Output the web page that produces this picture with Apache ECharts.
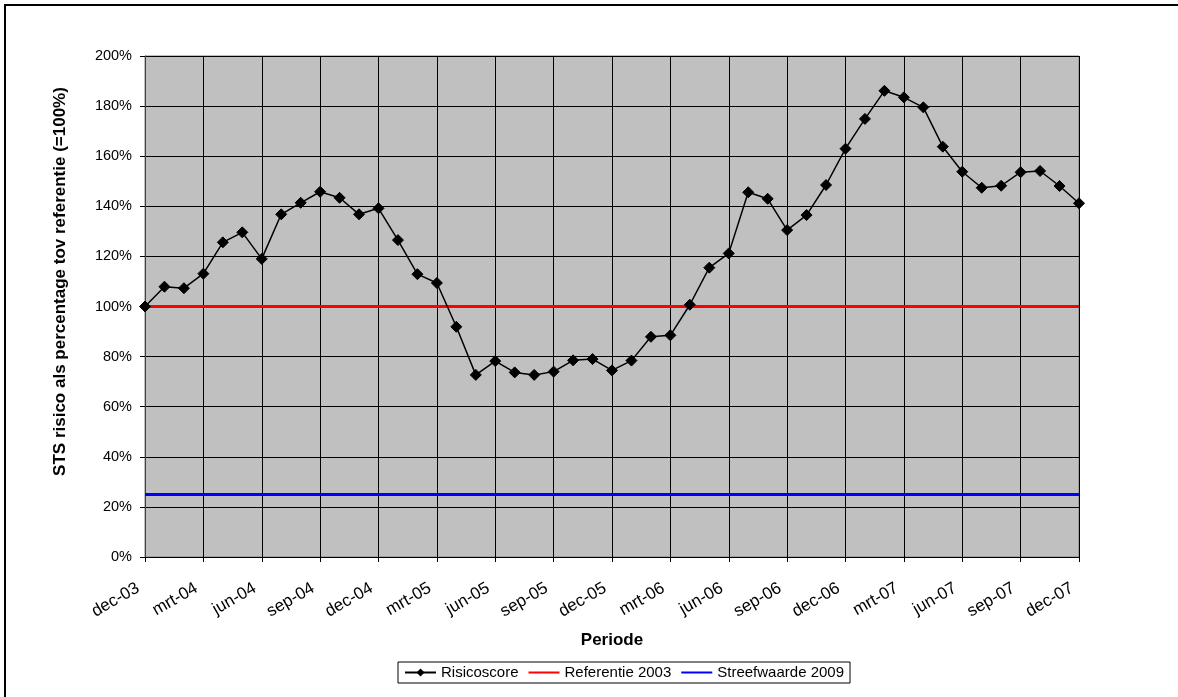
<!DOCTYPE html>
<html>
<head>
<meta charset="utf-8">
<script src="https://cdn.jsdelivr.net/npm/echarts@6/dist/echarts.min.js"></script>
<style>
  html, body { margin: 0; padding: 0; background: #fff; }
  #chart { width: 1178px; height: 697px; }
</style>
</head>
<body>
<div id="chart"></div>
<script>
// maanden dec-03 t/m dec-07
var periodes = [
  'dec-03','jan-04','feb-04','mrt-04','apr-04','mei-04','jun-04','jul-04','aug-04','sep-04','okt-04','nov-04',
  'dec-04','jan-05','feb-05','mrt-05','apr-05','mei-05','jun-05','jul-05','aug-05','sep-05','okt-05','nov-05',
  'dec-05','jan-06','feb-06','mrt-06','apr-06','mei-06','jun-06','jul-06','aug-06','sep-06','okt-06','nov-06',
  'dec-06','jan-07','feb-07','mrt-07','apr-07','mei-07','jun-07','jul-07','aug-07','sep-07','okt-07','nov-07',
  'dec-07'
];

// risicoscore in % van referentie
var risicoscore = [
  100.0, 107.9, 107.3, 113.1, 125.6, 129.6, 119.0, 136.8, 141.4, 145.8, 143.4, 136.8,
  139.2, 126.5, 112.9, 109.4, 91.9, 72.7, 78.2, 73.7, 72.7, 74.0, 78.5, 79.0,
  74.5, 78.4, 87.9, 88.5, 100.7, 115.5, 121.2, 145.6, 143.0, 130.5, 136.5, 148.5,
  163.0, 174.9, 186.1, 183.5, 179.5, 163.8, 153.8, 147.4, 148.2, 153.6, 154.1, 148.1,
  141.2
];

var referentie2003 = 100;
var streefwaarde2009 = 25;

var yTicks = { min: 0, max: 200, step: 20 };

var chart = echarts.init(document.getElementById('chart'));

var font = 'Liberation Sans, Arial, sans-serif';

// alleen de lijn in de legenda, geen bolletje
var noMarker = { opacity: 0, borderWidth: 0 };

var option = {
  animation: false,
  textStyle: { fontFamily: font, color: '#000' },
  graphic: [{
    type: 'rect',
    shape: { x: 5, y: 5, width: 1300, height: 800 },
    style: { fill: 'none', stroke: '#000', lineWidth: 2 },
    z: 100
  }],
  grid: {
    left: 145,
    right: 99,
    top: 56,
    bottom: 140,
    show: true,
    backgroundColor: '#C0C0C0',
    borderColor: '#808080',
    borderWidth: 1
  },
  legend: {
    left: 398,
    top: 662,
    padding: [3, 6, 3, 6],
    borderColor: '#000',
    borderWidth: 1,
    itemWidth: 31,
    itemHeight: 10,
    itemGap: 9,
    textStyle: { fontFamily: font, fontSize: 15, color: '#000' },
    data: [
      { name: 'Risicoscore' },
      { name: 'Referentie 2003', itemStyle: noMarker },
      { name: 'Streefwaarde 2009', itemStyle: noMarker }
    ]
  },
  xAxis: {
    type: 'category',
    data: periodes,
    boundaryGap: false,
    name: 'Periode',
    nameLocation: 'middle',
    nameGap: 75,
    nameTextStyle: { fontFamily: font, fontSize: 17, fontWeight: 'bold', color: '#000' },
    axisLine: { lineStyle: { color: '#000', width: 1 } },
    axisTick: { show: true, interval: 2, length: 5, lineStyle: { color: '#000' } },
    axisLabel: {
      interval: 2,
      rotate: 30,
      margin: 26,
      padding: [0, 8, 0, 0],
      fontFamily: font,
      fontSize: 17,
      color: '#000'
    },
    splitLine: { show: true, interval: 2, lineStyle: { color: '#000', width: 1 } }
  },
  yAxis: {
    type: 'value',
    min: yTicks.min,
    max: yTicks.max,
    interval: yTicks.step,
    name: 'STS risico als percentage tov referentie (=100%)',
    nameLocation: 'middle',
    nameGap: 76,
    nameTextStyle: {
      fontFamily: font, fontSize: 17, fontWeight: 'bold', color: '#000',
      padding: [0, 0, 0, 50]
    },
    axisLine: { show: true, lineStyle: { color: '#404040', width: 1 } },
    axisTick: { show: true, length: 5, lineStyle: { color: '#000' } },
    axisLabel: {
      margin: 13,
      fontFamily: font,
      fontSize: 14.5,
      color: '#000',
      formatter: '{value}%'
    },
    splitLine: { show: true, lineStyle: { color: '#000', width: 1 } }
  },
  series: [
    {
      name: 'Referentie 2003',
      type: 'line',
      data: [],
      symbol: 'none',
      color: '#FF0000',
      lineStyle: { color: '#FF0000', width: 3 },
      z: 2,
      markLine: {
        silent: true,
        symbol: 'none',
        label: { show: false },
        lineStyle: { color: '#FF0000', width: 3, type: 'solid' },
        data: [{ yAxis: referentie2003 }]
      }
    },
    {
      name: 'Streefwaarde 2009',
      type: 'line',
      data: [],
      symbol: 'none',
      color: '#0000FF',
      lineStyle: { color: '#0000FF', width: 3 },
      z: 2,
      markLine: {
        silent: true,
        symbol: 'none',
        label: { show: false },
        lineStyle: { color: '#0000FF', width: 3, type: 'solid' },
        data: [{ yAxis: streefwaarde2009 }]
      }
    },
    {
      name: 'Risicoscore',
      type: 'line',
      data: risicoscore,
      symbol: 'diamond',
      symbolSize: 11,
      showAllSymbol: true,
      color: '#000',
      lineStyle: { color: '#000', width: 1.5 },
      itemStyle: { color: '#000', borderColor: '#000' },
      z: 5
    }
  ]
};

chart.setOption(option);
</script>
</body>
</html>
